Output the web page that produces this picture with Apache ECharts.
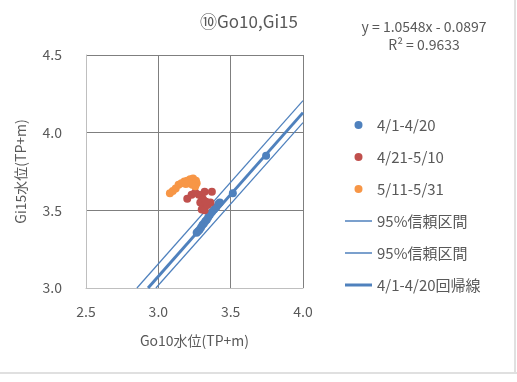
<!DOCTYPE html>
<html><head><meta charset="utf-8">
<script src="https://cdn.jsdelivr.net/npm/echarts@6/dist/echarts.min.js"></script>
<style>html,body{margin:0;padding:0;background:#fff}#c{width:517px;height:382px}</style>
</head><body><div id="c"></div>
<script>
const title = '⑩Go10,Gi15';
const xName = 'Go10水位(TP+m)';
const yName = 'Gi15水位(TP+m)';
const eqText = ['y = 1.0548x - 0.0897', 'R² = 0.9633'];
const seriesNames = ['4/1-4/20', '4/21-5/10', '5/11-5/31', '95%信頼区間', '95%信頼区間', '4/1-4/20回帰線'];
const xTicks = [2.5, 3.0, 3.5, 4.0];
const yTicks = [3.0, 3.5, 4.0, 4.5];
// 4/1-4/20 points [Go10, Gi15]
const blue = [[3.265,3.355],[3.275,3.365],[3.285,3.375],[3.295,3.39],[3.305,3.405],[3.315,3.415],[3.325,3.43],[3.335,3.44],[3.345,3.455],[3.355,3.47],[3.37,3.49],[3.385,3.505],[3.40,3.52],[3.415,3.54],[3.425,3.55],[3.515,3.61],[3.745,3.852]];
// 4/21-5/10
const red = [[3.20,3.575],[3.23,3.60],[3.255,3.615],[3.28,3.60],[3.30,3.59],[3.32,3.62],[3.37,3.62],[3.31,3.57],[3.29,3.55],[3.31,3.53],[3.30,3.505],[3.32,3.50],[3.34,3.535],[3.36,3.55],[3.33,3.555]];
// 5/11-5/31
const orange = [[3.08,3.61],[3.10,3.625],[3.12,3.64],[3.14,3.665],[3.16,3.675],[3.18,3.685],[3.20,3.69],[3.22,3.70],[3.24,3.705],[3.26,3.69],[3.265,3.675],[3.255,3.655],[3.235,3.665],[3.21,3.675],[3.19,3.67]];
// lines: endpoints
const upperBand = [[2.852,3.0],[4.0,4.206]];
const lowerBand = [[2.983,3.0],[4.0,4.065]];
const regLine = [[2.929,3.0],[4.0,4.129]];

const ids = ['s0','s1','s2','s3','s4','s5'];
const txt = '#595959';
const font = "'Noto Sans CJK JP', 'Noto Sans', sans-serif";
const chart = echarts.init(document.getElementById('c'));
chart.setOption({
  animation: false,
  backgroundColor: '#fff',
  textStyle: {fontFamily: font},
  title: {text: title, left: 244, top: 8, textAlign: 'center',
    textStyle: {fontSize: 17, fontWeight: 'normal', color: txt, fontFamily: font}},
  graphic: [
    {type: 'text', x: 424, y: 20, style: {text: eqText[0], textAlign: 'center', fill: txt, fontSize: 14, fontFamily: font}},
    {type: 'text', x: 424, y: 38, style: {text: eqText[1], textAlign: 'center', fill: txt, fontSize: 14, fontFamily: font}},
    {type: 'line', shape: {x1: 0, y1: 373, x2: 517, y2: 373}, style: {stroke: '#e0e0e0', lineWidth: 2}},
    {type: 'line', shape: {x1: 515, y1: 0, x2: 515, y2: 373}, style: {stroke: '#e0e0e0', lineWidth: 2}}
  ],
  grid: {left: 86, right: 214, top: 55, bottom: 94},
  legend: {
    orient: 'vertical', left: 340, top: 111,
    itemWidth: 27, itemHeight: 8, itemGap: 14,
    formatter: n => seriesNames[ids.indexOf(n)],
    textStyle: {fontSize: 15, color: txt, lineHeight: 18, fontFamily: font, padding: [0,0,0,0]},
    data: [
      {name: ids[0], icon: 'circle'},
      {name: ids[1], icon: 'circle'},
      {name: ids[2], icon: 'circle'},
      {name: ids[3], icon: 'path://M0,0H27V1.5H0Z'},
      {name: ids[4], icon: 'path://M0,0H27V1.5H0Z'},
      {name: ids[5], icon: 'path://M0,0H27V3H0Z'}
    ]
  },
  xAxis: {type: 'value', min: 2.5, max: 4.0, interval: 0.5,
    name: xName, nameLocation: 'middle', nameGap: 46,
    nameTextStyle: {fontSize: 14, color: txt},
    axisLine: {show: true, lineStyle: {color: '#bfbfbf', width: 1}},
    axisTick: {show: false},
    axisLabel: {fontSize: 14, color: txt, margin: 17, formatter: v => v.toFixed(1)},
    splitLine: {show: true, lineStyle: {color: '#7f7f7f', width: 1}}},
  yAxis: {type: 'value', min: 3.0, max: 4.5, interval: 0.5,
    name: yName, nameLocation: 'middle', nameGap: 58,
    nameTextStyle: {fontSize: 14, color: txt},
    axisLine: {show: true, lineStyle: {color: '#bfbfbf', width: 1}},
    axisTick: {show: false},
    axisLabel: {fontSize: 14, color: txt, margin: 24, formatter: v => v.toFixed(1)},
    splitLine: {show: true, lineStyle: {color: '#7f7f7f', width: 1}}},
  series: [
    {name: ids[0], type: 'scatter', data: blue, symbolSize: 8, itemStyle: {color: '#4f81bd', opacity: 1}, z: 3},
    {name: ids[1], type: 'scatter', data: red, symbolSize: 8, itemStyle: {color: '#c0504d', opacity: 1}, z: 3},
    {name: ids[2], type: 'scatter', data: orange, symbolSize: 8, itemStyle: {color: '#f79646', opacity: 1}, z: 3},
    {name: ids[3], type: 'line', data: upperBand, showSymbol: false, symbol: 'none', lineStyle: {color: '#4f81bd', width: 1.25}, itemStyle: {color: '#4f81bd'}, z: 2},
    {name: ids[4], type: 'line', data: lowerBand, showSymbol: false, symbol: 'none', lineStyle: {color: '#4f81bd', width: 1.25}, itemStyle: {color: '#4f81bd'}, z: 2},
    {name: ids[5], type: 'line', data: regLine, showSymbol: false, symbol: 'none', lineStyle: {color: '#4f81bd', width: 3}, itemStyle: {color: '#4f81bd'}, z: 2}
  ]
});
</script></body></html>
